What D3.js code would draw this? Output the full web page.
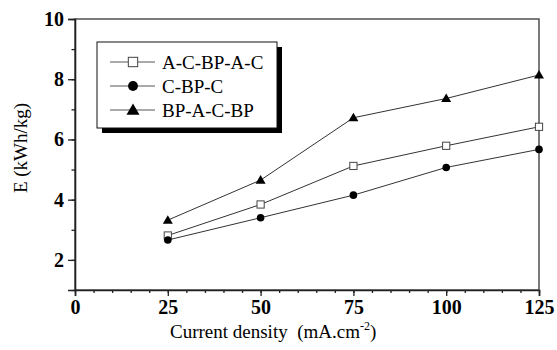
<!DOCTYPE html>
<html><head><meta charset="utf-8">
<script src="https://cdn.jsdelivr.net/npm/d3@7"></script>
<style>body{margin:0;background:#fff}svg{display:block}text{font-family:"Liberation Serif","Times New Roman",serif}</style>
</head><body><svg id="c" width="557" height="350"></svg>
<script>
const currentDensity = [25, 50, 75, 100, 125];
const seriesNames = ["A-C-BP-A-C", "C-BP-C", "BP-A-C-BP"];
const acbpac = [2.81, 3.84, 5.12, 5.79, 6.42];
const cbpc = [2.66, 3.40, 4.15, 5.07, 5.67];
const bpacbp = [3.32, 4.65, 6.72, 7.36, 8.14];
const xTicks = [0, 25, 50, 75, 100, 125];
const yTicks = [2, 4, 6, 8, 10];

const svg = d3.select("#c");
const m = {l:75, r:539, t:19, b:290};
const x = d3.scaleLinear().domain([0,125]).range([m.l, m.r]);
const y = d3.scaleLinear().domain([1,10]).range([m.b, m.t]);
const ink = "#222";

// frame
svg.append("rect").attr("x",m.l).attr("y",m.t).attr("width",m.r-m.l).attr("height",m.b-m.t)
  .attr("fill","none").attr("stroke","#444").attr("stroke-width",1.4);

// x axis
const xa = svg.append("g").attr("transform",`translate(0,${m.b})`);
xa.call(d3.axisBottom(x).tickValues(d3.range(0,126,5)).tickSize(3).tickFormat(""))
  .call(g=>g.select(".domain").remove());
xa.append("g").call(d3.axisBottom(x).tickValues(xTicks).tickSize(6).tickPadding(4).tickFormat(d3.format("d")))
  .call(g=>g.select(".domain").attr("stroke",ink).attr("stroke-width",1.6))
  .call(g=>g.selectAll("text").attr("font-size",20).attr("font-weight","bold").attr("fill","#000")
     .attr("font-family","Liberation Serif"));
xa.selectAll("line").attr("stroke",ink).attr("stroke-width",1.3);

// y axis
const ya = svg.append("g").attr("transform",`translate(${m.l},0)`);
ya.call(d3.axisLeft(y).tickValues(d3.range(1,10.01,1)).tickSize(3.5).tickFormat(""))
  .call(g=>g.select(".domain").remove());
ya.append("g").call(d3.axisLeft(y).tickValues(yTicks).tickSize(7).tickPadding(4).tickFormat(d3.format("d")))
  .call(g=>g.select(".domain").attr("stroke",ink).attr("stroke-width",1.6))
  .call(g=>g.selectAll("text").attr("font-size",20).attr("font-weight","bold").attr("fill","#000")
     .attr("font-family","Liberation Serif"));
ya.selectAll("line").attr("stroke",ink).attr("stroke-width",1.3);

// axis titles
const xt = svg.append("text").attr("x",170).attr("y",338).attr("font-size",19).attr("fill","#000")
  .style("white-space","pre");
xt.append("tspan").text("Current density\u00A0\u00A0(mA.cm");
xt.append("tspan").attr("font-size",12).attr("dy",-8).text("-2");
xt.append("tspan").attr("dy",8).text(")");
svg.append("text").attr("transform","translate(27,148) rotate(-90)").attr("text-anchor","middle")
  .attr("font-size",19).attr("fill","#000").text("E (kWh/kg)");

// series
const series = [
  {name:seriesNames[0], vals:acbpac, sym:"square"},
  {name:seriesNames[1], vals:cbpc, sym:"circle"},
  {name:seriesNames[2], vals:bpacbp, sym:"triangle"}
];
const line = d3.line().x((d,i)=>x(currentDensity[i])).y(d=>y(d));
function marker(g, sym, cx, cy, s) {
  if (sym==="square") g.append("rect").attr("x",cx-3.6*s).attr("y",cy-3.6*s).attr("width",7.2*s).attr("height",7.2*s)
      .attr("fill","#fff").attr("stroke","#444").attr("stroke-width",1);
  else if (sym==="circle") g.append("circle").attr("cx",cx).attr("cy",cy).attr("r",3.8*s).attr("fill","#000");
  else g.append("path").attr("d",`M${cx},${cy-5*s}L${cx+5*s},${cy+3.6*s}L${cx-5*s},${cy+3.6*s}Z`).attr("fill","#000");
}
series.forEach(s=>{
  svg.append("path").attr("d",line(s.vals)).attr("fill","none").attr("stroke","#333").attr("stroke-width",1);
  s.vals.forEach((v,i)=>marker(svg,s.sym,x(currentDensity[i]),y(v),1));
});

// legend
const lg = svg.append("g");
lg.append("rect").attr("x",102).attr("y",47).attr("width",180).attr("height",86).attr("fill","#000");
lg.append("rect").attr("x",97).attr("y",42).attr("width",180).attr("height",86).attr("fill","#fff")
  .attr("stroke","#111").attr("stroke-width",1);
series.forEach((s,i)=>{
  const cy = 62 + i*24;
  lg.append("line").attr("x1",110).attr("x2",155).attr("y1",cy).attr("y2",cy).attr("stroke","#555").attr("stroke-width",1);
  marker(lg, s.sym, 133, cy, 1.3);
  lg.append("text").attr("x",162).attr("y",cy+6.5).attr("font-size",19).attr("fill","#000").text(s.name);
});
</script></body></html>
